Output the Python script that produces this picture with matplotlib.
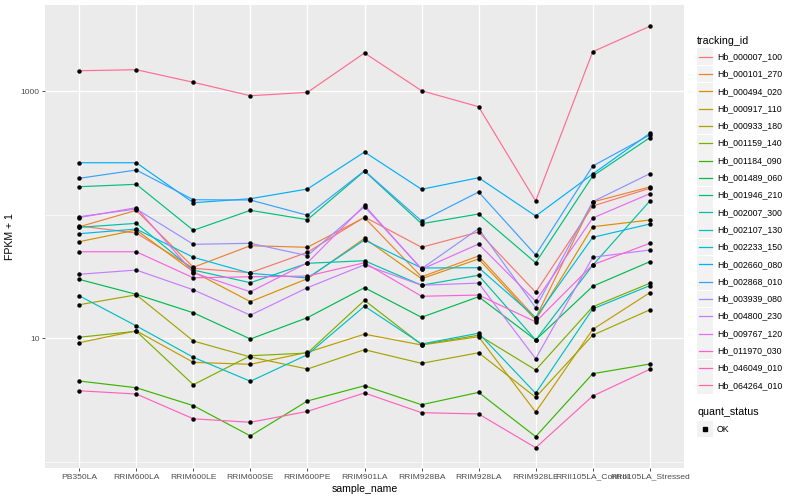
import numpy as np
import matplotlib
matplotlib.use("Agg")
import matplotlib.pyplot as plt
from matplotlib.lines import Line2D
from matplotlib.patches import Rectangle
from matplotlib.ticker import FixedLocator, NullFormatter

plt.rcParams['font.family'] = ['Liberation Sans', 'DejaVu Sans']

samples = ["PB350LA", "RRIM600LA", "RRIM600LE", "RRIM600SE", "RRIM600PE", "RRIM901LA",
           "RRIM928BA", "RRIM928LA", "RRIM928LE", "RRII105LA_Control", "RRII105LA_Stressed"]

# FPKM + 1 per gene
Hb_000007_100 = [81.2, 71.2, 36.9, 34.0, 49.7, 96.0, 54.6, 72.6, 23.6, 117.8, 163.9]
Hb_000101_270 = [80.0, 108.7, 37.6, 56.2, 54.6, 95.0, 31.5, 46.4, 14.6, 127.0, 168.0]
Hb_000494_020 = [60.6, 75.3, 34.6, 19.8, 30.4, 64.5, 30.4, 43.9, 14.1, 80.1, 90.8]
Hb_000917_110 = [9.21, 11.5, 6.39, 6.16, 7.7, 10.8, 8.83, 10.3, 2.53, 11.8, 23.4]
Hb_000933_180 = [18.7, 22.5, 9.51, 7.06, 5.64, 8.09, 6.27, 7.64, 3.33, 10.6, 17.0]
Hb_001159_140 = [10.2, 11.4, 4.21, 7.23, 7.60, 20.3, 8.9, 10.6, 5.54, 18.0, 27.9]
Hb_001184_090 = [4.51, 3.98, 2.85, 1.62, 3.11, 4.13, 2.90, 3.65, 1.60, 5.17, 6.19]
Hb_001489_060 = [30.0, 22.7, 16.1, 9.87, 14.7, 25.7, 14.8, 21.7, 9.7, 26.4, 41.7]
Hb_001946_210 = [168.9, 176.6, 74.9, 108.7, 91.3, 226.0, 84.7, 101.5, 40.9, 206.2, 421.0]
Hb_002007_300 = [79.2, 85.3, 35.7, 28.2, 40.5, 42.5, 26.9, 32.4, 9.69, 39.0, 129.3]
Hb_002107_130 = [22.1, 12.6, 7.02, 4.49, 7.37, 18.2, 8.99, 11.0, 3.59, 17.3, 26.7]
Hb_002233_150 = [70.3, 76.7, 45.3, 33.6, 30.8, 62.5, 37.1, 37.3, 14.7, 65.7, 84.2]
Hb_002660_080 = [264.1, 264.1, 125.3, 135.0, 161.8, 322.5, 160.9, 199.7, 97.8, 214.0, 456.9]
Hb_002868_010 = [197.5, 230.6, 132.5, 131.8, 99.1, 227.6, 89.1, 153.0, 47.3, 248.4, 442.7]
Hb_003939_080 = [96.5, 111.4, 57.7, 58.8, 46.7, 116.3, 36.6, 77.2, 17.7, 127.7, 215.2]
Hb_004800_230 = [33.0, 35.7, 24.7, 15.4, 25.7, 39.4, 26.9, 28.0, 6.84, 45.3, 51.9]
Hb_009767_120 = [95.0, 114.2, 34.0, 23.8, 40.9, 119.4, 36.2, 58.0, 20.0, 94.2, 148.2]
Hb_011970_030 = [50.2, 50.2, 30.9, 31.5, 31.9, 40.9, 21.9, 22.4, 13.6, 39.4, 58.8]
Hb_046049_010 = [3.76, 3.54, 2.23, 2.09, 2.56, 3.61, 2.50, 2.44, 1.30, 3.41, 5.61]
Hb_064264_010 = [1468, 1496, 1183, 921, 981, 2043, 1011, 750.6, 129.3, 2093, 3360]

tracking_ids = ["Hb_000007_100", "Hb_000101_270", "Hb_000494_020", "Hb_000917_110",
                "Hb_000933_180", "Hb_001159_140", "Hb_001184_090", "Hb_001489_060",
                "Hb_001946_210", "Hb_002007_300", "Hb_002107_130", "Hb_002233_150",
                "Hb_002660_080", "Hb_002868_010", "Hb_003939_080", "Hb_004800_230",
                "Hb_009767_120", "Hb_011970_030", "Hb_046049_010", "Hb_064264_010"]
series = [Hb_000007_100, Hb_000101_270, Hb_000494_020, Hb_000917_110, Hb_000933_180,
          Hb_001159_140, Hb_001184_090, Hb_001489_060, Hb_001946_210, Hb_002007_300,
          Hb_002107_130, Hb_002233_150, Hb_002660_080, Hb_002868_010, Hb_003939_080,
          Hb_004800_230, Hb_009767_120, Hb_011970_030, Hb_046049_010, Hb_064264_010]

# ggplot default hue palette for 20 groups
colors = ["#F8766D", "#EA8331", "#D89000", "#C09B00", "#A3A500", "#7CAE00", "#39B600",
          "#00BB4E", "#00BF7D", "#00C1A3", "#00BFC4", "#00BAE0", "#00B0F6", "#35A2FF",
          "#9590FF", "#C77CFF", "#E76BF3", "#FA62DB", "#FF62BC", "#FF6C91"]

W, H = 800, 500
fig = plt.figure(figsize=(8, 5), dpi=100)
ax = fig.add_axes([45 / W, 1 - 468 / H, (684 - 45) / W, (468 - 5) / H])
ax.set_facecolor("#EBEBEB")

x = np.arange(len(samples))
for vals, c in zip(series, colors):
    ax.plot(x, vals, color=c, lw=0.85, zorder=3)
for vals in series:
    ax.plot(x, vals, ls="none", marker="o", ms=3.2, color="black", mec="none", zorder=4)

ax.set_yscale("log")
ax.set_ylim(0.891, 5000)
ax.set_xlim(-0.6, len(samples) - 0.4)
ax.set_yticks([10, 1000])
ax.set_yticklabels(["10", "1000"])
ax.yaxis.set_minor_locator(FixedLocator([1, 100]))
ax.yaxis.set_minor_formatter(NullFormatter())
ax.set_xticks(x)
ax.set_xticklabels(samples)

ax.grid(True, which="major", color="white", lw=0.9, zorder=0)
ax.grid(True, which="minor", axis="y", color="white", lw=0.45, zorder=0)
ax.set_axisbelow(True)
for s in ax.spines.values():
    s.set_visible(False)
ax.tick_params(which="major", length=2.2, width=0.6, color="#333333",
               labelsize=6.1, labelcolor="#4D4D4D", pad=1.8)
ax.tick_params(which="minor", length=0)

ax.set_xlabel("sample_name", fontsize=7.6, labelpad=2.5)
ax.set_ylabel("FPKM + 1", fontsize=7.6, labelpad=4)

# legend, drawn by hand in figure pixels
def fx(px):
    return px / W

def fy(py):
    return 1 - py / H

fig.text(fx(697), fy(40.5), "tracking_id", fontsize=7.7, va="center", ha="left")
step = 17.3
for i, (name, c) in enumerate(zip(tracking_ids, colors)):
    yc = 56.7 + i * step
    fig.patches.append(Rectangle((fx(697), fy(yc + 8.4)), 16 / W, 16.8 / H,
                                 transform=fig.transFigure, facecolor="#F2F2F2",
                                 edgecolor="none"))
    fig.lines.append(Line2D([fx(698.5), fx(712)], [fy(yc), fy(yc)], color=c, lw=0.9,
                            transform=fig.transFigure))
    fig.text(fx(717), fy(yc), name, fontsize=6.3, va="center", ha="left")

fig.text(fx(697), fy(412.3), "quant_status", fontsize=7.7, va="center", ha="left")
fig.patches.append(Rectangle((fx(697), fy(429 + 8.4)), 16 / W, 16.8 / H,
                             transform=fig.transFigure, facecolor="#F2F2F2",
                             edgecolor="none"))
fig.lines.append(Line2D([fx(705)], [fy(429)], marker="s", ms=2.6, color="black",
                        ls="none", transform=fig.transFigure))
fig.text(fx(717), fy(429), "OK", fontsize=6.3, va="center", ha="left")

fig.savefig("out.png", dpi=100)
